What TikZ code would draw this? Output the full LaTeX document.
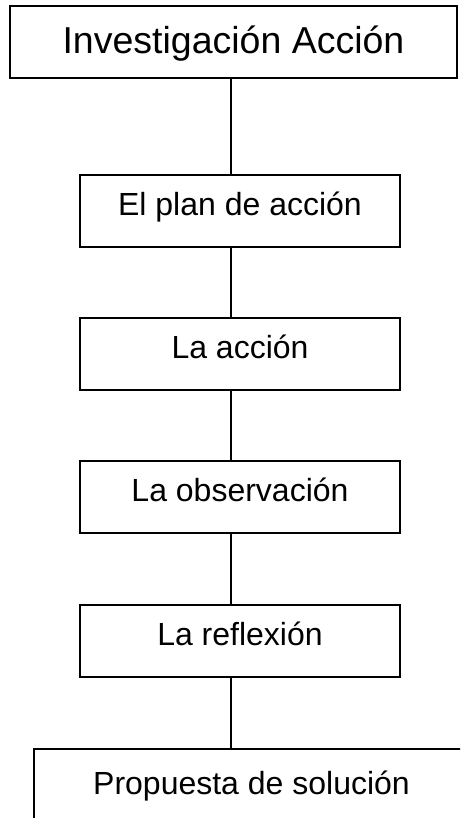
\documentclass[tikz,border=0pt]{standalone}
\usepackage{fontspec}
\setmainfont{Liberation Sans}
\usepackage{tikz}

\begin{document}
\begin{tikzpicture}[x=1pt,y=-1pt,line width=1.8pt,
  paso/.style={rectangle,draw,minimum width=320pt,minimum height=72pt,inner sep=0pt,
    font=\fontsize{32}{38}\selectfont,text height=22pt,text depth=13pt}]
\useasboundingbox (0,0) rectangle (460,818);
\clip (0,0) rectangle (460,818);
\coordinate (eje) at (231,0);
\node[rectangle,draw,minimum width=447pt,minimum height=72pt,inner sep=0pt,
   font=\fontsize{37.5}{44}\selectfont,text height=30pt,text depth=7pt]
   (inv) at (233.5,42) {Investigación Acción};
\node[paso] (plan) at (240,211) {El plan de acción};
\node[paso] (accion) at (240,354) {La acción};
\node[paso] (obs) at (240,497) {La observación};
\node[paso] (refl) at (240,641) {La reflexión};
\node[rectangle,draw,minimum width=435pt,minimum height=86pt,inner sep=0pt,
   font=\fontsize{32}{38}\selectfont,text height=22pt,text depth=18pt]
   (prop) at (251.5,792) {Propuesta de solución};
\draw (inv.south -| eje) -- (plan.north -| eje);
\draw (plan.south -| eje) -- (accion.north -| eje);
\draw (accion.south -| eje) -- (obs.north -| eje);
\draw (obs.south -| eje) -- (refl.north -| eje);
\draw (refl.south -| eje) -- (prop.north -| eje);
\end{tikzpicture}
\end{document}
